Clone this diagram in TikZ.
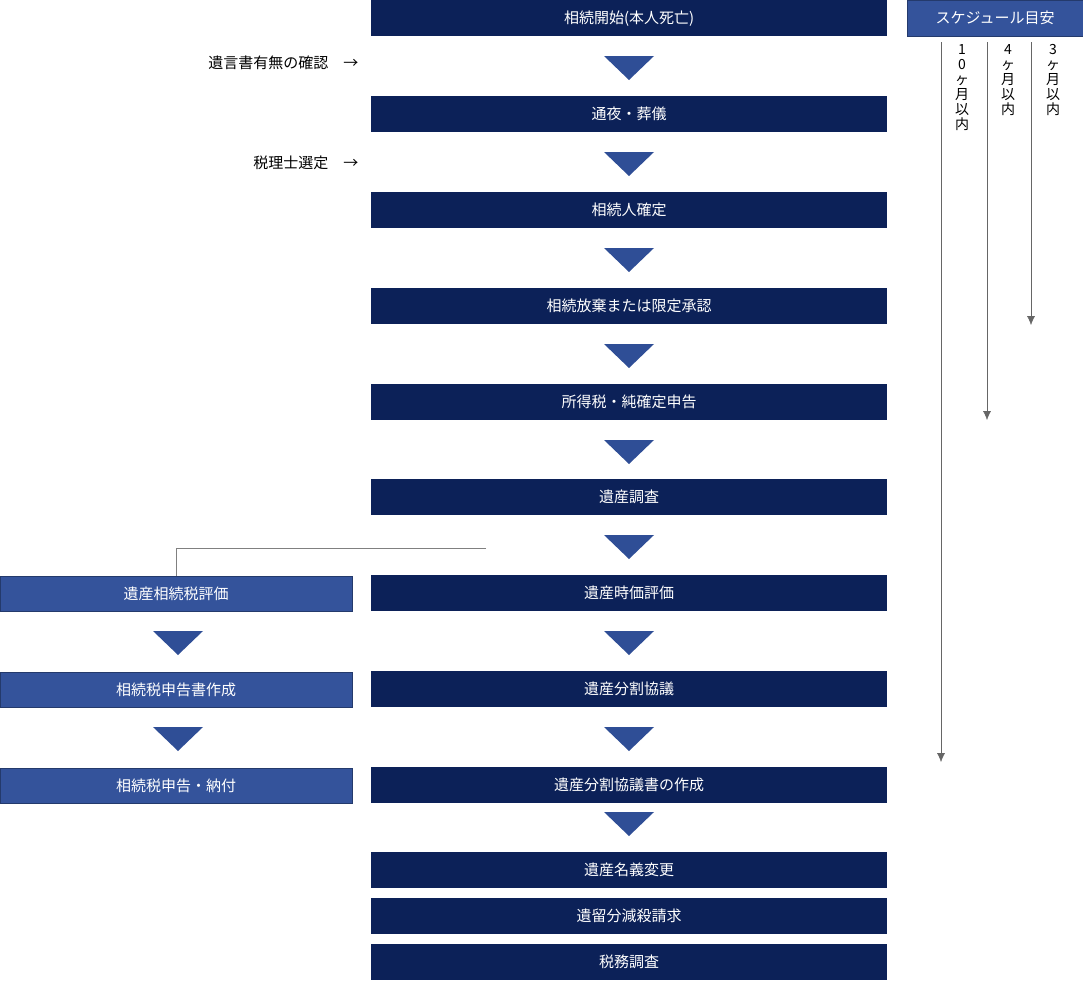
\documentclass[tikz,border=0pt]{standalone}
\usetikzlibrary{arrows.meta}
\usepackage{fontspec}
\newfontfamily\cjk{Noto Sans CJK JP}
\definecolor{navy}{HTML}{0C2158}
\definecolor{mid}{HTML}{34539B}
\definecolor{tri}{HTML}{2F4E96}
\begin{document}
\begin{tikzpicture}[x=1pt,y=-1pt,font=\cjk\fontsize{15}{18}\selectfont,
  mainbox/.style={fill=navy,text=white,minimum width=516pt,minimum height=36pt,inner sep=0pt,anchor=north west},
  sidebox/.style={fill=mid,draw=mid!70!black,text=white,minimum width=352pt,minimum height=35pt,inner sep=0pt,anchor=north west},
  tri/.style={fill=tri,draw=none},
  vtext/.style={anchor=north,align=center,font=\cjk\fontsize{14}{15}\selectfont,inner sep=0pt}]
\useasboundingbox (0,0) rectangle (1083,980);
\foreach \n/\y/\t in {m1/0/相続開始(本人死亡),m2/96/通夜・葬儀,m3/192/相続人確定,m4/288/相続放棄または限定承認,m5/384/所得税・純確定申告,m6/479/遺産調査,m7/575/遺産時価評価,m8/671/遺産分割協議,m9/767/遺産分割協議書の作成,m10/852/遺産名義変更,m11/898/遺留分減殺請求,m12/944/税務調査}
  \node[mainbox] (\n) at (371,\y) {\t};
\foreach \y in {56,152,248,344,440,535,631,727,812}
  \fill[tri] (604,\y) -- (654,\y) -- (629,\y+24) -- cycle;
\node[sidebox] (s1) at (0,576) {遺産相続税評価};
\node[sidebox] (s2) at (0,672) {相続税申告書作成};
\node[sidebox] (s3) at (0,768) {相続税申告・納付};
\foreach \y in {631,727}
  \fill[tri] (153,\y) -- (203,\y) -- (178,\y+24) -- cycle;
\coordinate (c1) at (486,548);
\draw[gray,thick] (c1) -| (s1.north);
\node[anchor=east] (l1) at (362,63) {遺言書有無の確認\quad →};
\node[anchor=east] (l2) at (362,163) {税理士選定\quad →};
\node[fill=mid,draw=mid!70!black,text=white,minimum width=176pt,minimum height=36pt,inner sep=0pt,anchor=north west] (sch) at (907,0) {スケジュール目安};
\coordinate (a1) at (1031,42); \coordinate (b1) at (1031,325);
\coordinate (a2) at (987,42); \coordinate (b2) at (987,420);
\coordinate (a3) at (941,42); \coordinate (b3) at (941,762);
\foreach \i in {1,2,3} \draw[gray!80!black,-{Latex[length=9pt,width=8pt]}] (a\i) -- (b\i);
\node[vtext] (t1) at (1053,44) {3\\ヶ\\月\\以\\内};
\node[vtext] (t2) at (1008,44) {4\\ヶ\\月\\以\\内};
\node[vtext] (t3) at (962,44) {1\\0\\ヶ\\月\\以\\内};
\end{tikzpicture}
\end{document}
